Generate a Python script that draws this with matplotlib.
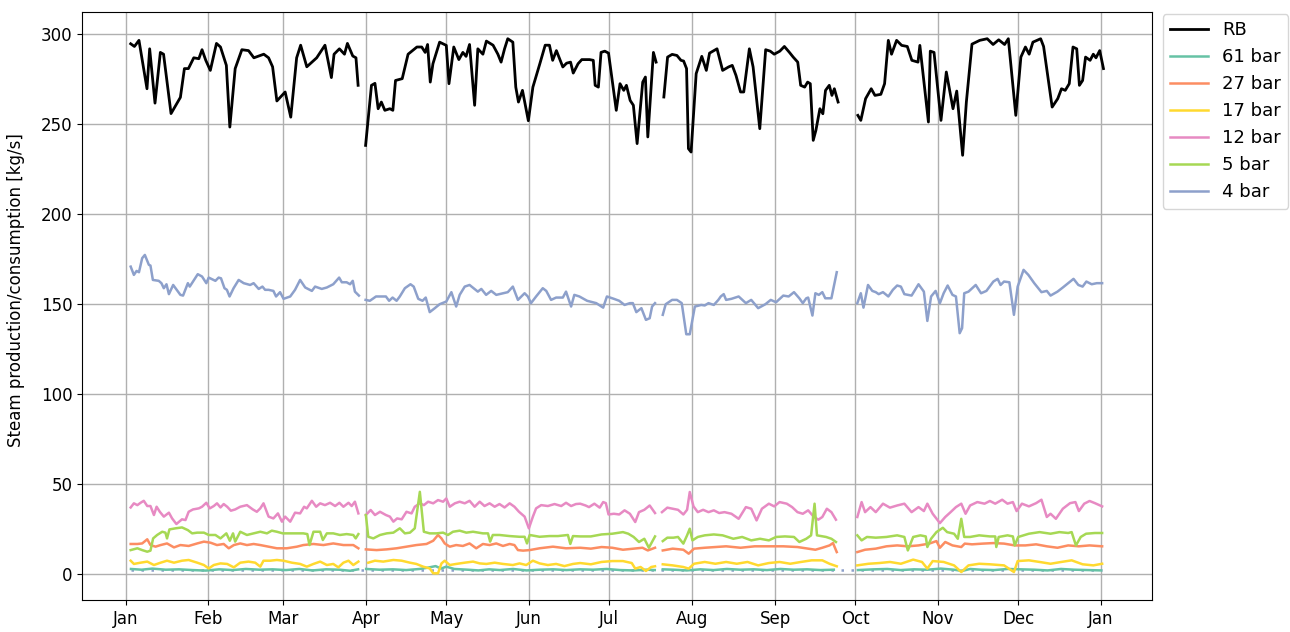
import numpy as np
import matplotlib
matplotlib.use("Agg")
import matplotlib.pyplot as plt
import matplotlib.dates as mdates
import datetime as dt

nan = np.nan
year_start = dt.date(2017, 1, 1)

# ---- data: (day of year offset, value); nan marks a gap ----
rb_days = [1.9, 3.3, 5, 8, 9, 11, 13, 14.2, 17, 20.5, 22, 23.5, 25.5, 27.4, 28.6, 30, 31.7, 34, 35.5, 37.7, 39, 41,
           43.5, 46, 48, 49.8, 51.7, 53.5, 55, 56.6, 59.7, 61.8, 64, 65.5, 67.8, 71.5, 74.6, 77, 78, 80, 81.9, 83, 85,
           86.2, 87, 88.5, 89.8, 92, 93.3, 94.5, 95.7, 97, 98.9, 100, 101, 103.5, 105.7, 109, 110.8, 112.1, 113, 114,
           115, 117.5, 120, 121, 122.8, 124.7, 126.2, 127.4, 128.7, 130.6, 131.8, 133.7, 135, 137.5, 139.3, 140.5,
           141.8, 143, 144.9, 146, 147, 148.5, 150.7, 152.4, 155, 157, 158.6, 159.8, 161.2, 163.6, 165, 166.5, 167.5,
           169.3, 170.7, 173.6, 175, 175.7, 176.9, 177.9, 179.3, 180.7, 183.6, 185, 186.4, 187.4, 188.8, 190, 191.4,
           193.5, 194.5, 195.4, 197.5, 198.5, 200, 201.4, 202.8, 204.5, 206.3, 207.8, 208.8, 209.9, 210.6, 211.6,
           213.5, 215.6, 217.3, 218.5, 221.3, 223.4, 225.6, 227, 228.4, 230.1, 231.3, 233.4, 234.8, 237.3, 239.5,
           241.2, 242.7, 244.8, 246.5, 248.4, 249.8, 251.5, 252.6, 254.1, 255.2, 256.2, 257.3, 258.3, 259.8, 260.9,
           261.9, 263.3, 264.3, 265.2, 266.6, 270, 274, 275.1, 276.9, 279, 280.4, 282.6, 284, 285.4, 286.6, 288.5,
           290.4, 292.5, 294.2, 296.5, 297.2, 300.4, 301.1, 302.5, 305.1, 307.1, 309.6, 311, 313.2, 314.6, 316.7,
           319.6, 322.4, 324.6, 326.7, 328.9, 330.3, 333.1, 335, 336.7, 338.1, 339.5, 342.4, 343.5, 346.7, 348.8,
           350.2, 351.6, 353.1, 354.5, 355.9, 356.9, 358.1, 359.2, 360.9, 362.1, 363.1, 364.5, 365.9]
rb_vals = [294.8, 293.3, 296.7, 269.8, 292, 261.8, 290, 289, 256, 265, 281, 281, 287, 286.5, 291.5, 285.6, 280, 295,
           293, 282.8, 248.5, 281, 291.5, 291, 287, 288, 289, 287, 282, 263, 268, 254, 287, 294, 282, 287, 294, 276,
           289, 292, 289, 295, 288, 287, 271.7, nan, 238.3, 271.7, 272.8, 258.7, 262.4, 257.8, 258.7, 257.8, 274.4,
           275.4, 289, 293, 293, 290, 294.4, 273.5, 283.7, 295.7, 293.9, 272.6, 293, 286, 290, 287.8, 294.4, 260.6,
           292, 289, 296.3, 294, 289, 284.6, 292, 297.6, 295.7, 270.7, 262.4, 268.9, 252, 270.7, 283.7, 294, 294,
           285.6, 291, 281.9, 284, 284.6, 278.5, 283.7, 286, 286, 285.6, 271.7, 270.7, 290, 290.7, 289.6, 257.8,
           272.6, 268.9, 271.7, 263.3, 260.6, 239.3, 273.5, 276.3, 243, 290, 284.6, nan, 265.2, 287.4, 288.9, 288.3,
           285.6, 285.2, 281, 236.5, 234.6, 278.2, 287.8, 280, 289.6, 292, 280, 281.9, 282.8, 277.2, 268, 268, 292,
           281.9, 247.6, 291.5, 290.7, 289, 290.7, 293.3, 290, 287.4, 284.6, 271.7, 270.7, 273.5, 272.6, 241.1,
           246.7, 258.7, 255.9, 268.9, 271.7, 266.1, 269.8, 262.4, nan, 255, 252.2, 264.3, 269.8, 266.1, 266.7,
           272.6, 296.7, 289, 296.7, 293.9, 293.3, 285.6, 284.6, 293.9, 251.3, 290.7, 290, 252.2, 279.1, 258.7,
           268.5, 232.8, 262.4, 294.6, 296.7, 297.6, 294.4, 297, 294.4, 297.6, 255, 287.4, 293, 289, 295.7, 297.6,
           293.3, 259.6, 264.3, 269.8, 268.9, 272.6, 293, 292, 271.7, 274.4, 287.4, 285.6, 289, 287, 291, 281]

b61_days = [2, 6, 10, 15, 20, 25, 30, 35, 40, 45, 50, 55, 60, 65, 70, 75, 80, 84, 87, 88.5, 90, 95, 100, 105, 110,
            113, 116, 118, 120, 123, 128, 132, 136, 140, 145, 150, 155, 160, 165, 170, 175, 180, 185, 190, 195, 198,
            200, 201, 205, 210, 215, 220, 225, 230, 235, 240, 245, 250, 255, 260, 265, 270, 274, 280, 285, 290, 295,
            300, 305, 310, 313, 316, 320, 325, 330, 335, 340, 345, 350, 355, 360, 365]
b61_vals = [2.8, 2.4, 3.0, 2.4, 2.6, 2.2, 1.9, 2.6, 2.2, 2.8, 2.4, 2.6, 2.2, 2.8, 2.0, 2.6, 2.4, 1.8, 2.6, nan, 2.8,
            2.4, 2.6, 2.2, 2.8, 3.5, 4.4, 3.0, 4.1, 2.8, 2.4, 2.0, 2.6, 2.2, 2.8, 2.0, 2.4, 2.6, 2.2, 2.6, 2.4, 2.8,
            2.2, 2.0, 2.4, 2.2, nan, 2.6, 2.4, 2.0, 2.6, 2.2, 2.8, 2.4, 2.6, 2.2, 2.8, 2.4, 2.6, 2.2, 2.4, nan, 2.2,
            2.6, 2.8, 2.2, 2.6, 2.4, 3.0, 2.4, 1.7, 2.8, 2.4, 2.2, 2.8, 2.6, 2.4, 2.0, 2.8, 2.4, 2.2, 2.0]

b27_days = [1.9, 4.4, 6.2, 8.1, 9.3, 11.2, 13.1, 15.5, 18.1, 20.5, 23.6, 26.8, 29.3, 31.8, 34.2, 36.7, 38.6, 40.5,
            42.9, 45.4, 47.9, 50.4, 53.5, 56.6, 60.3, 64.1, 66.5, 70.3, 74, 77.7, 81.5, 85.2, 87.1, 88.5, 89.9, 93.9,
            97.7, 101.4, 105.1, 108.8, 112.6, 115.1, 116.9, 118.2, 119.4, 121.3, 123.7, 126.2, 128.7, 131.2, 133.7,
            136.2, 138.7, 141.2, 143.7, 145.5, 146.8, 148.7, 151.2, 154.9, 159.9, 164.8, 170.1, 174.1, 178.1, 182.1,
            186.1, 190.1, 193.4, 195.4, 198.1, 199.5, 201, 204.7, 208.7, 210.7, 212.7, 216.7, 220.7, 224.7, 230.1,
            235.4, 240.7, 246.1, 251.4, 255.4, 258.1, 260.7, 263.4, 264.7, 266.1, 270, 273.8, 276.7, 280.7, 284.7,
            288.7, 292.7, 296.7, 300.7, 303.4, 304.7, 306.7, 309.4, 312.7, 314, 316.7, 320.7, 324.7, 328.7, 332.7,
            336.7, 340.7, 344.7, 348.7, 352.7, 356.7, 360.7, 365.4]
b27_vals = [16.7, 16.7, 17, 19.3, 16.1, 15.2, 16.1, 17, 14.8, 16.1, 15.6, 17, 18, 17.4, 16.1, 16.7, 14.3, 16.1, 17,
            16.1, 16.7, 16.1, 15.2, 14.3, 14.3, 15.2, 16.1, 16.7, 16.1, 17, 16.1, 16.1, 14.3, nan, 13.7, 13.3, 13.7,
            14.3, 15.2, 16.1, 16.7, 18.5, 21.7, 19.8, 17, 15.2, 16.1, 15.6, 17, 14.3, 16.7, 16.1, 17, 15.6, 16.7,
            16.1, 13.3, 13, 13.3, 14.3, 15.2, 14.3, 14.6, 14.1, 15, 14.6, 13.5, 14.1, 14.6, 13.1, 14.6, nan, 13.1,
            14.1, 13.5, 11.3, 14.1, 14.6, 15, 15.4, 14.6, 15.4, 15.4, 15.4, 15, 14.1, 13.5, 14.6, 15.9, 17.2, 12.2,
            nan, 12.2, 13.5, 14.1, 15.4, 15.9, 15.4, 15.9, 16.9, 18.3, 14.6, 17.8, 15.9, 15, 16.9, 16.5, 16.9, 17.2,
            16.9, 15.9, 15.9, 16.5, 15.4, 14.6, 15.9, 15.4, 15.9, 15.4]

b17_days = [1.9, 3.1, 5.6, 8.1, 10.6, 13.1, 15.5, 18.1, 21.1, 23.6, 26.8, 29.3, 31.1, 33, 35.5, 38, 40.5, 42.9, 46,
            48.5, 50.4, 51.6, 54.1, 56.6, 59.1, 62.2, 65.3, 67.8, 70.3, 72.8, 75.3, 77.7, 79.6, 81.5, 83.4, 85.2,
            87.1, 88.8, 90.8, 93.3, 96.4, 100.2, 103.3, 106.4, 108.8, 111.3, 113.8, 115.1, 116.9, 118.2, 119.4, 121.3,
            123.7, 126.9, 130, 132.5, 135, 138.1, 141.2, 144.9, 147.4, 149.9, 152.4, 154.9, 158, 161.1, 164.2, 167.4,
            170.1, 174.1, 178.1, 182.1, 186.1, 189.4, 190.7, 192.7, 194.7, 196.7, 198.1, 199.5, 201, 204.7, 208.7,
            210.7, 212.7, 216.7, 220.7, 224.7, 228.7, 232.7, 236.7, 240.7, 244.7, 248.7, 252.7, 256.7, 260.7, 263.4,
            266.1, 270, 273.8, 278, 282, 286, 290.1, 294.7, 298, 300, 302, 306.1, 310, 312.7, 315.4, 319.4, 323.4,
            328.7, 332.4, 333.8, 338, 342, 346.1, 350.1, 354, 358.1, 362.1, 365.4]
b17_vals = [7.4, 5.6, 6.3, 6.9, 5, 6.3, 7.4, 6.3, 7.4, 7.8, 6.3, 5, 3.1, 5, 5.9, 5.6, 3.7, 6.3, 6.9, 6.3, 4.1, 7.4,
            7.4, 7.8, 7.4, 6.3, 5.6, 4.1, 5.6, 6.9, 5, 5.6, 3.7, 6.3, 7.4, 5, 6.9, nan, 6.3, 7.4, 6.9, 7.8, 7.4, 6.3,
            5.6, 4.1, 3.1, 0.4, 0.4, 5.9, 7.4, 5, 5.6, 6.3, 6.9, 5.9, 5.6, 6.3, 5.6, 5, 5.9, 5, 7.4, 5.9, 5, 5.6, 4.4,
            5.6, 6.1, 5.4, 6.7, 7.2, 7.2, 6.1, 3, 3.9, 1.7, 3.9, 4.3, nan, 5.4, 4.8, 3.9, 3, 5.7, 6.7, 5.7, 6.7, 5.7,
            6.7, 4.8, 6.1, 6.7, 5.7, 6.7, 7.6, 7.6, 5.7, 4.3, nan, 4.8, 5.7, 6.1, 6.7, 5.7, 8, 6.7, 3, 7.2, 6.7, 4.8,
            1.1, 4.8, 5.7, 5.4, 4.8, 1.1, 7.2, 7.6, 6.7, 5.7, 6.7, 7.6, 5.4, 4.8, 5.7]

b12_days = [1.9, 3.1, 4.4, 5.6, 6.8, 8.1, 9.3, 10.6, 11.6, 12.8, 14.3, 16.2, 17.4, 19, 21.1, 22.4, 23.6, 25.2, 27.4,
            28.6, 30.2, 31.5, 33, 34.2, 35.5, 36.7, 38, 39.4, 41, 42.9, 45.4, 47.6, 49.1, 50.4, 51.6, 53.5, 55.3, 57,
            58.5, 59.7, 61.6, 63.4, 65.3, 66.8, 67.8, 69.7, 71.3, 72.8, 74.6, 76.5, 78.4, 80, 81.5, 83.4, 84.6, 85.8,
            87.1, 88.5, 89.9, 91.7, 93.3, 95.2, 97.4, 98.9, 100.2, 101.6, 103.3, 105.1, 107, 108.2, 110.1, 111.6,
            113.2, 115.1, 116.9, 118.8, 120, 121.3, 123.2, 125, 126.9, 128.7, 130.6, 132.5, 134.3, 136.2, 138.1,
            139.9, 141.8, 143.7, 145.5, 147.2, 149.3, 150.9, 152.4, 153.6, 155.5, 158, 160.5, 163, 164.8, 166.7,
            168.5, 170.1, 172.1, 173.4, 175.4, 177.4, 178.7, 179.7, 180.7, 182.7, 184.7, 186.7, 188.7, 190.7, 192.1,
            194.1, 196.1, 198.1, 199.5, 200.7, 202.7, 204.7, 206.7, 208.7, 210.1, 211.1, 212.5, 214.1, 216.1, 218.1,
            220.1, 222.1, 224.1, 226.7, 229.4, 232.1, 234.1, 236.1, 238.1, 240.7, 242.7, 244.7, 247.4, 249.4, 251.4,
            253.4, 255.4, 257.4, 259.2, 260.7, 262.4, 264.1, 265.8, 270, 273.8, 275.4, 276.7, 278.7, 280.7, 283.4,
            286, 288.7, 291.4, 294.1, 296.7, 298.7, 300, 302, 304.7, 306.7, 308.7, 310.7, 312.7, 314.3, 316, 318.7,
            321.4, 323.4, 325.4, 328, 330, 332, 333.4, 335.4, 338, 340.7, 342.7, 344.7, 346.1, 348.1, 350.7, 353.4,
            355.4, 356.7, 358.7, 360.7, 362.7, 365.4]
b12_vals = [37, 39.3, 38.3, 39.6, 40.7, 37.8, 37.8, 32.8, 37.4, 34.6, 31.9, 34.1, 30.9, 27.8, 30.4, 30, 34.6, 35.9,
            36.5, 37.4, 39.6, 36.5, 37.8, 39.3, 37, 38.9, 37.4, 35.2, 35.9, 37.4, 38.3, 35.9, 34.6, 36.5, 39.3, 31.9,
            30.9, 33.7, 29.1, 31.9, 29.1, 34.1, 33.7, 37.4, 36.5, 40.7, 37.4, 39.3, 38.3, 39.6, 37.8, 39.6, 37.4,
            39.6, 37.8, 40.2, 33.7, nan, 32.8, 35.6, 32.8, 34.6, 32.8, 31.9, 29.1, 30.9, 30.4, 34.6, 33.7, 37.4, 39.3,
            38.3, 40.2, 39.3, 41.1, 40.2, 42, 37.4, 39.3, 40.2, 39.3, 40.7, 37.4, 40.2, 37.8, 39.3, 37.4, 38.9, 37,
            39.3, 37.4, 34.6, 31.9, 25.4, 31.9, 36.5, 38.3, 37.8, 38.9, 37.8, 39.6, 37.8, 38.9, 39.1, 38.1, 37.2,
            39.1, 36.9, 40, 39.4, 33.1, 33.5, 33.1, 35.4, 33.5, 28.9, 34.4, 35.7, 38.1, 33.9, nan, 34.4, 36.9, 36.3,
            35.7, 33.1, 35.7, 45.6, 37.6, 34.4, 35.7, 34.4, 35.4, 33.9, 34.4, 33.5, 30.7, 37.2, 36.3, 29.8, 36.3,
            39.1, 37.6, 40, 39.1, 37.2, 34.4, 33.5, 35.4, 32, 30.2, 31.7, 36.3, 34.4, 30.2, nan, 31.7, 40, 34.4, 37.2,
            34.4, 39.1, 36.9, 38.1, 39.1, 34.4, 37.2, 35, 39.1, 33.5, 28.3, 31.7, 34.4, 37.2, 39.1, 33.5, 38.1, 40,
            39.1, 40.6, 39.1, 41.3, 39.1, 40, 35, 39.1, 37.6, 39.4, 41.3, 31.7, 33.5, 30.7, 36.3, 39.4, 40, 35, 39.1,
            40.6, 39.4, 37.6]

b5_days = [1.9, 4.4, 6.2, 8.1, 9.3, 10.3, 11.8, 13.7, 14.9, 15.5, 16.4, 18.7, 21.1, 23.3, 24.9, 26.8, 29.3, 31.1,
           33.6, 35.5, 37.7, 39, 40.2, 41, 42.9, 45.4, 47.9, 50.4, 52.9, 54.7, 56.6, 58.8, 61.6, 64.1, 66.5, 68,
           68.8, 70.3, 72.8, 73.8, 75.3, 77.7, 80.2, 82.7, 85.2, 86.1, 87.1, 88.5, 89.9, 90.8, 92.7, 95.2, 97.7,
           100.2, 102.6, 104.5, 106.4, 108.2, 110.1, 111.6, 113.8, 116.3, 118.8, 120.6, 122.5, 125, 127.5, 130,
           133.7, 135.6, 136.4, 137.4, 139.9, 143.7, 147.4, 149.3, 150.2, 151.2, 154.9, 158.6, 161.8, 165.5, 166.4,
           167.4, 170.1, 174.1, 178.1, 182.1, 186.1, 188.1, 190.1, 192.1, 194.1, 195.8, 198.1, 199.5, 201, 202.7,
           205, 206.7, 208.7, 210.1, 211.1, 212.1, 214.1, 216.7, 220.1, 223.4, 227.4, 230.7, 234.1, 237.4, 240.7,
           243.4, 246.7, 250.1, 252.1, 254.7, 256.5, 257.8, 258.7, 262.1, 264.1, 265.8, 270, 273.8, 275.4, 277.4,
           280.7, 284.7, 288.7, 291.4, 292.7, 294.7, 297.4, 299.4, 300, 301.4, 303.4, 305.8, 307.4, 310, 311.4,
           312.7, 313.8, 316, 319.4, 323.4, 325.4, 325.8, 326.7, 330, 332, 332.7, 334, 338, 342, 346.1, 349.4, 352.7,
           354, 355.6, 357.4, 359.4, 362.7, 365.4]
b5_vals = [13.3, 14.3, 13.3, 12.4, 13, 19.8, 21.7, 23.5, 23, 19.8, 24.8, 25.4, 25.9, 24.4, 22.6, 23, 23, 21.7, 21.7,
           19.8, 22.6, 18.5, 22.6, 18, 23.5, 21.7, 22.6, 23.5, 22.6, 24.1, 23.5, 22.6, 22.6, 22.6, 22.6, 22.2, 16.1,
           23.5, 23.5, 18.9, 22.6, 22.6, 21.7, 22.2, 21.7, 19.8, 22.2, nan, 32.8, 20.7, 19.8, 21.7, 22.6, 23, 25.4,
           22.6, 23, 25.4, 45.7, 23.5, 22.6, 22.6, 23, 21.7, 23.5, 24.1, 23, 23.5, 22.6, 22.6, 18, 21.7, 21.7, 21.1,
           20.7, 20.7, 17, 21.7, 20.7, 21.1, 21.1, 21.7, 16.7, 21.1, 20.9, 20.9, 22, 22.4, 23.3, 22.4, 20.6, 17.8,
           19.6, 14.6, 20.9, nan, 18.3, 20.2, 20.2, 20.6, 16.9, 21.5, 25.2, 18.7, 20.6, 21.5, 22, 21.5, 19.6, 20.6,
           18.7, 19.6, 18.7, 20.6, 20.9, 20.6, 17.8, 19.6, 21.5, 39.1, 21.5, 20.6, 19.6, 17.8, nan, 21.5, 18.7, 20.6,
           20.2, 20.6, 21.5, 20.6, 13.1, 20.6, 21.5, 20.9, 15, 19.6, 23.3, 25.7, 23.3, 22.4, 19.6, 30.7, 20.6, 20.6,
           21.5, 20.9, 20.9, 15, 20.6, 21.5, 20.9, 15.9, 20.6, 22.4, 23.3, 22.4, 23.3, 22.8, 23.3, 15.9, 20.6, 22.4,
           22.8, 22.8]

b4_days = [1.9, 3.1, 4.1, 5, 6.2, 7.2, 8.7, 9.3, 10.2, 12.4, 13.4, 14.3, 15.3, 16.2, 17.8, 20.5, 21.5, 23.3, 24,
           27, 28.6, 30.2, 31.1, 33.6, 34.8, 35.7, 37, 37.9, 38.9, 40.4, 42.3, 44.2, 46.6, 47.9, 49.8, 51.2, 52.2,
           53.5, 55.3, 56.3, 57.8, 59.1, 61.6, 63.4, 65.3, 67.2, 69.7, 70.9, 73.4, 75.3, 77.7, 79.9, 80.9, 82.7, 84,
           85, 85.8, 87.3, 88.5, 89.8, 91.4, 93.7, 97.4, 98.6, 99.9, 101.4, 102.6, 104.5, 106.6, 107.8, 109.5, 111.1,
           112.3, 113.8, 115.7, 117.5, 120, 121.9, 123.7, 125, 126.9, 128.7, 131.8, 133.1, 134.9, 136.8, 138.7,
           141.2, 143, 144.9, 146.8, 149.3, 150.5, 151.7, 153.6, 156.1, 157.4, 159.2, 161.1, 163.6, 164.8, 166.7,
           167.9, 169.8, 171.4, 172.7, 176.1, 178.7, 180.1, 182.7, 184.7, 186.7, 188.7, 189.8, 191.1, 193, 194.7,
           196.1, 197, 198.1, 199.5, 201, 202.1, 204.5, 206.3, 208.1, 209.8, 211.1, 213, 215.4, 216.7, 218.1, 220.1,
           221.8, 222.7, 223.8, 224.7, 226.7, 229.4, 232.1, 234.1, 236.7, 239.4, 241.4, 243.4, 246.1, 248.1, 250.1,
           252.1, 253.4, 254.7, 255.4, 257, 258.1, 259.4, 260.7, 261.8, 264.1, 266.1, 270, 273.8, 275.1, 276.1,
           277.8, 279.4, 280.7, 281.8, 283.4, 285.4, 287.1, 288.7, 290.1, 291.4, 294.1, 296.7, 298.7, 300, 301.4,
           303.1, 304.7, 306.1, 307.6, 309.4, 310.7, 312.1, 313, 313.8, 315.4, 318.1, 320.1, 322.1, 324.7, 326.3,
           327.4, 328.7, 330.7, 332.4, 333.8, 336, 337.8, 340, 342.7, 344.7, 346.1, 348.7, 350.7, 352.7, 354.7,
           356.5, 358.1, 359.5, 361.5, 363.4, 365.4]
b4_vals = [170.9, 166.3, 168.5, 167.8, 175.6, 177.4, 171.9, 171.5, 163.5, 163, 161.7, 158.9, 161.1, 155.6, 160.7,
           155.2, 154.8, 161.7, 159.8, 166.7, 165.4, 161.7, 164.8, 163, 164.8, 164.4, 158.9, 158, 154.3, 158.9,
           163.5, 161.7, 160.7, 161.7, 158.5, 159.8, 158, 158, 157.4, 154.3, 156.7, 153, 154.3, 158, 163.5, 159.3,
           157.4, 159.8, 158.5, 159.3, 161.1, 164.8, 162.2, 162.2, 161.1, 163, 157, 154.8, nan, 152.4, 151.9, 154.3,
           154.3, 151.9, 153.7, 151.9, 154.3, 158.9, 161.1, 159.8, 153, 151.9, 153.7, 145.6, 147.8, 150, 151.5,
           156.7, 148.7, 155.2, 159.8, 160.7, 157, 158.5, 155.2, 157.4, 155.2, 156.1, 156.7, 159.8, 152.4, 156.1,
           154.3, 150.6, 154.3, 158.9, 157.4, 152.4, 153.7, 153.7, 157, 148.7, 155.2, 154.3, 153, 151.9, 150.6,
           148.1, 154.3, 153, 151.9, 149.6, 150.6, 150.6, 145.6, 147.8, 141.3, 142.2, 148.7, 150.6, nan, 144.1, 150,
           152.4, 152.4, 150.6, 133.3, 133.3, 148.7, 149.6, 149.3, 150.6, 149.6, 152.4, 154.3, 155.6, 152.4, 153,
           154.3, 150.6, 152.4, 147.8, 150, 152.4, 151.1, 154.8, 154.3, 156.7, 153.3, 150.6, 153.3, 153.7, 143.7,
           156.1, 155.2, 156.7, 153.3, 153.3, 167.8, nan, 150.6, 156.1, 148.1, 160.7, 157.4, 156.7, 155.6, 156.7,
           154.3, 158, 160.4, 159.8, 155.6, 154.8, 161.1, 157, 140.7, 154.3, 157.4, 150.6, 156.1, 160.4, 155.2,
           154.3, 133.9, 136.7, 156.1, 157, 160.7, 156.1, 157.4, 162.6, 164.1, 160.7, 162.6, 162.2, 144.1, 159.8,
           169.1, 166.3, 161.7, 156.7, 157.4, 154.8, 157, 159.3, 161.7, 164.1, 160.7, 159.8, 162.6, 161.1, 161.7,
           161.7]

dotted_days = [1.9, 365.4]
dotted_vals = [2.5, 2.5]

series = [
    ("RB", rb_days, rb_vals, "black", 2.0),
    ("61 bar", b61_days, b61_vals, "#66c2a5", 1.8),
    ("27 bar", b27_days, b27_vals, "#fc8d62", 1.8),
    ("17 bar", b17_days, b17_vals, "#ffd92f", 1.8),
    ("12 bar", b12_days, b12_vals, "#e78ac3", 1.8),
    ("5 bar", b5_days, b5_vals, "#a6d854", 1.8),
    ("4 bar", b4_days, b4_vals, "#8da0cb", 1.8),
]

base = mdates.date2num(year_start)

fig = plt.figure(figsize=(12.9, 6.32), dpi=100)
ax = fig.add_axes([0.0636, 0.0506, 0.8295, 0.9304])

ax.plot(base + np.array(dotted_days), dotted_vals, color="#8da0cb", lw=1.8,
        linestyle=(0, (1, 3)), zorder=1)
for name, d, v, c, lw in series:
    ax.plot(base + np.array(d), np.array(v, dtype=float), color=c, lw=lw, label=name, zorder=2)

ax.xaxis.set_major_locator(mdates.MonthLocator())
ax.xaxis.set_major_formatter(mdates.DateFormatter("%b"))
ax.set_yticks([0, 50, 100, 150, 200, 250, 300])
ax.tick_params(labelsize=12)
ax.grid(True, color="#b0b0b0", lw=1.0)
ax.set_axisbelow(True)
ax.set_ylabel("Steam production/consumption [kg/s]", fontsize=12)
ax.yaxis.set_label_coords(-0.0535, 0.527)
ax.legend(loc="upper left", bbox_to_anchor=(1162.7 / 1290, 1 - 14 / 632),
          bbox_transform=fig.transFigure, borderaxespad=0, fontsize=13,
          labelspacing=0.5, handlelength=2.1)

fig.savefig("out.png", dpi=100)
